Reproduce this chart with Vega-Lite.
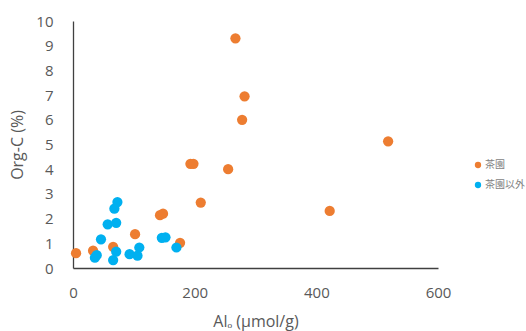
{
  "$schema": "https://vega.github.io/schema/vega-lite/v6.json",
  "width": 365,
  "height": 247,
  "autosize": "none",
  "padding": {"left": 73, "top": 21, "right": 88, "bottom": 63},
  "background": "white",
  "config": {"view": {"stroke": null}},
  "data": {"values": [
    {"al": 5, "c": 0.6, "g": "茶園"},
    {"al": 33, "c": 0.7, "g": "茶園"},
    {"al": 66, "c": 0.86, "g": "茶園"},
    {"al": 102, "c": 1.37, "g": "茶園"},
    {"al": 143, "c": 2.14, "g": "茶園"},
    {"al": 148, "c": 2.2, "g": "茶園"},
    {"al": 176, "c": 1.02, "g": "茶園"},
    {"al": 193, "c": 4.22, "g": "茶園"},
    {"al": 198, "c": 4.22, "g": "茶園"},
    {"al": 255, "c": 4.0, "g": "茶園"},
    {"al": 210, "c": 2.65, "g": "茶園"},
    {"al": 267, "c": 9.3, "g": "茶園"},
    {"al": 282, "c": 6.95, "g": "茶園"},
    {"al": 278, "c": 6.0, "g": "茶園"},
    {"al": 518, "c": 5.13, "g": "茶園"},
    {"al": 422, "c": 2.31, "g": "茶園"},
    {"al": 73, "c": 2.67, "g": "茶園以外"},
    {"al": 68, "c": 2.4, "g": "茶園以外"},
    {"al": 57, "c": 1.77, "g": "茶園以外"},
    {"al": 71, "c": 1.83, "g": "茶園以外"},
    {"al": 46, "c": 1.16, "g": "茶園以外"},
    {"al": 39, "c": 0.52, "g": "茶園以外"},
    {"al": 36, "c": 0.42, "g": "茶園以外"},
    {"al": 66, "c": 0.32, "g": "茶園以外"},
    {"al": 71, "c": 0.66, "g": "茶園以外"},
    {"al": 93, "c": 0.56, "g": "茶園以外"},
    {"al": 106, "c": 0.5, "g": "茶園以外"},
    {"al": 109, "c": 0.83, "g": "茶園以外"},
    {"al": 146, "c": 1.22, "g": "茶園以外"},
    {"al": 152, "c": 1.24, "g": "茶園以外"},
    {"al": 170, "c": 0.83, "g": "茶園以外"}
  ]},
  "mark": {"type": "circle", "size": 105, "opacity": 1},
  "encoding": {
    "x": {"field": "al", "type": "quantitative",
      "scale": {"domain": [0, 600], "nice": false},
      "axis": {"title": "Alₒ (μmol/g)", "values": [0, 200, 400, 600], "grid": false, "ticks": false,
        "labelFlush": false,
        "domainColor": "#404040", "domainWidth": 1.3, "labelFont": "Open Sans", "labelFontSize": 15,
        "labelColor": "#595959", "labelPadding": 17, "titleFont": "Open Sans", "titleFontSize": 16,
        "titleFontWeight": "normal", "titleColor": "#595959", "titlePadding": 13}},
    "y": {"field": "c", "type": "quantitative",
      "scale": {"domain": [0, 10], "nice": false},
      "axis": {"title": "Org-C (%)", "values": [0,1,2,3,4,5,6,7,8,9,10], "grid": false, "ticks": false,
        "labelFlush": false,
        "domainColor": "#404040", "domainWidth": 1.3, "labelFont": "Open Sans", "labelFontSize": 15,
        "labelColor": "#595959", "labelPadding": 20, "titleFont": "Open Sans", "titleFontSize": 16,
        "titleFontWeight": "normal", "titleColor": "#595959", "titlePadding": 10}},
    "color": {"field": "g", "type": "nominal",
      "scale": {"domain": ["茶園", "茶園以外"], "range": ["#ED7D31", "#00B0F0"]},
      "legend": {"title": null, "orient": "none", "legendX": 400, "legendY": 139,
        "symbolSize": 40, "labelFont": "Noto Sans CJK JP", "labelFontSize": 10, "labelColor": "#7f7f7f",
        "rowPadding": 10, "labelOffset": 2, "symbolType": "circle"}}
  }
}
